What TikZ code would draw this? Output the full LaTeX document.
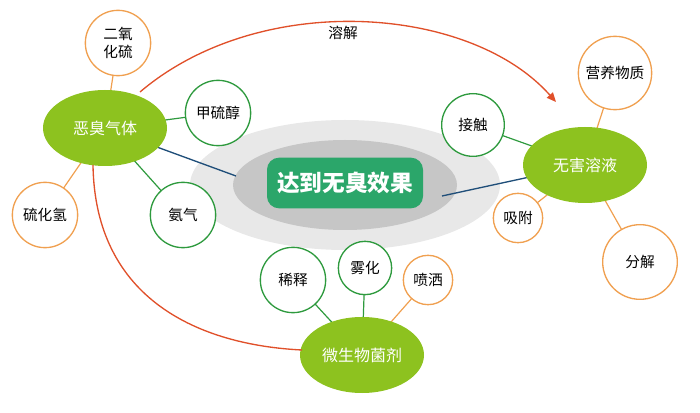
\documentclass[tikz,border=0pt]{standalone}
\usepackage{fontspec}
\setmainfont{Noto Sans CJK SC}
\usetikzlibrary{arrows.meta,shapes.geometric}
\definecolor{lg}{HTML}{8DC21F}
\definecolor{dg}{HTML}{2BA66A}
\definecolor{gc}{HTML}{2E9A3E}
\definecolor{oc}{HTML}{F0A050}
\definecolor{rc}{HTML}{E0502A}
\definecolor{bl}{HTML}{1F4E79}
\begin{document}
\begin{tikzpicture}[x=0.75pt,y=-0.75pt,
 big/.style={ellipse,fill=lg,text=white,font=\fontsize{12}{14}\selectfont,minimum width=93pt,minimum height=57pt,inner sep=0},
 gcirc/.style={circle,draw=gc,line width=1pt,fill=white,font=\fontsize{11}{13}\selectfont,align=center,inner sep=0},
 ocirc/.style={circle,draw=oc,line width=1pt,fill=white,font=\fontsize{11}{13}\selectfont,align=center,inner sep=0},
 gl/.style={draw=gc,line width=0.9pt},
 ol/.style={draw=oc,line width=0.9pt}]
\useasboundingbox (0,0) rectangle (700,413);
\fill[gray!18] (345,185) ellipse [x radius=155,y radius=65];
\fill[gray!45] (345,185) ellipse [x radius=112,y radius=45];
\node[rounded corners=9pt,fill=dg,text=white,font=\bfseries\fontsize{17}{19}\selectfont,minimum width=117pt,minimum height=38pt] (c) at (345,183) {达到无臭效果};
\coordinate (cl) at (236,176);
\coordinate (cr) at (442,196);
% connectors
\coordinate (A) at (105,128);
\coordinate (B) at (585,165);
\coordinate (M) at (362,355);
\draw[bl,line width=1pt] (A) -- (cl);
\draw[bl,line width=1pt] (cr) -- (B);
\draw[ol] (A) -- (118,43); \draw[gl] (A) -- (218,113); \draw[ol] (A) -- (45,215); \draw[gl] (A) -- (183,215);
\draw[gl] (B) -- (473,125); \draw[ol] (B) -- (518,218); \draw[ol] (B) -- (615,73); \draw[ol] (B) -- (640,262);
\draw[gl] (M) -- (293,280); \draw[gl] (M) -- (365,268); \draw[ol] (M) -- (428,280);
% nodes
\node[ocirc,minimum size=49pt] (n1) at (118,43) {二氧\\化硫};
\node[gcirc,minimum size=49pt] (n2) at (218,113) {甲硫醇};
\node[ocirc,minimum size=49pt] (n3) at (45,215) {硫化氢};
\node[gcirc,minimum size=49pt] (n4) at (183,215) {氨气};
\node[gcirc,minimum size=47pt] (n5) at (473,125) {接触};
\node[ocirc,minimum size=37pt] (n6) at (518,218) {吸附};
\node[ocirc,minimum size=55pt] (n7) at (615,73) {营养物质};
\node[ocirc,minimum size=56pt] (n8) at (640,262) {分解};
\node[gcirc,minimum size=49pt] (n9) at (293,280) {稀释};
\node[gcirc,minimum size=40pt] (n10) at (365,268) {雾化};
\node[ocirc,minimum size=37pt] (n11) at (428,280) {喷洒};
\node[big] (a) at (A) {恶臭气体};
\node[big] (b) at (B) {无害溶液};
\node[big] (m) at (M) {微生物菌剂};
% red arcs
\coordinate (s1) at (140,92);
\coordinate (e1) at (556,102);
\draw[rc,line width=1pt,-{Triangle[length=7pt,width=6pt]}] (s1) .. controls (260,-10) and (470,5) .. (e1);
\node[font=\fontsize{11}{13}\selectfont] (lbl) at (343,33) {溶解};
\coordinate (s2) at (93,165);
\coordinate (e2) at (302,350);
\draw[rc,line width=1pt] (s2) .. controls (95,300) and (200,345) .. (e2);
\end{tikzpicture}
\end{document}
